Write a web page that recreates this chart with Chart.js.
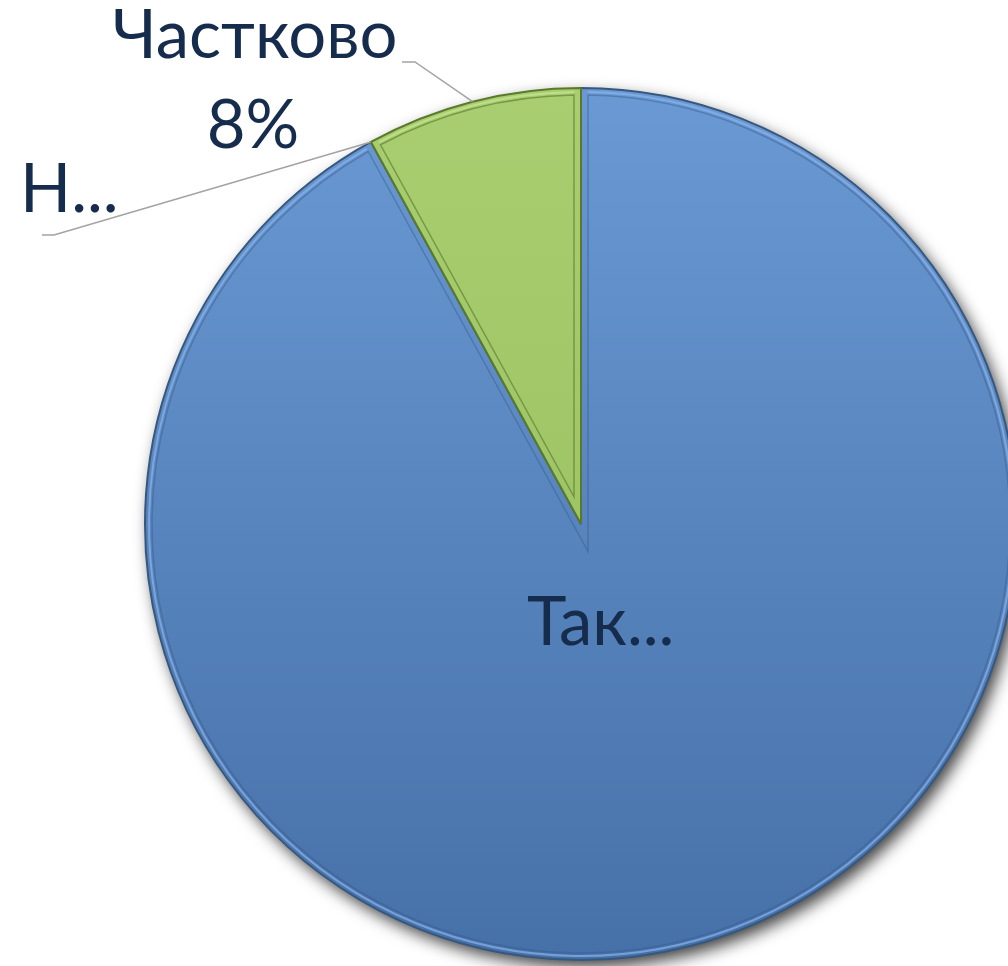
<!DOCTYPE html>
<html><head><meta charset="utf-8">
<script src="https://cdn.jsdelivr.net/npm/chart.js@4/dist/chart.umd.min.js"></script>
<style>html,body{margin:0;padding:0;overflow:hidden;background:#fff}
#wrap{position:relative;width:1030px;height:966px}</style></head>
<body><div id="wrap"><canvas id="c"></canvas></div>
<script>
const categories = ['Так', 'Ні', 'Частково'];
const values = [92, 0, 8];
const labelLines = [['Так...'], ['Н...'], ['Частково', '8%']];

const topColors = ['#6a99d3', '#6a99d3', '#a9ce71'];
const bottomColors = ['#4670a8', '#4670a8', '#93bb58'];
const edgeColors = ['#36587f', '#36587f', '#5a7a2a'];

function grad(ctx, i) {
  const chart = ctx.chart, a = chart.chartArea;
  if (!a) return topColors[i];
  const g = chart.ctx.createLinearGradient(0, a.top, 0, a.bottom);
  g.addColorStop(0, topColors[i]);
  g.addColorStop(1, bottomColors[i]);
  return g;
}

const shadowPlugin = {
  id: 'shadow',
  beforeDatasetsDraw(chart) {
    const el = chart.getDatasetMeta(0).data[0];
    if (!el) return;
    const c = chart.ctx;
    c.save();
    c.shadowColor = 'rgba(0,0,0,0.75)';
    c.shadowBlur = 16;
    c.shadowOffsetX = 5;
    c.shadowOffsetY = 7;
    c.beginPath();
    c.arc(el.x, el.y, el.outerRadius, 0, Math.PI * 2);
    c.fillStyle = '#36587f';
    c.fill();
    c.restore();
  }
};

const bevelPlugin = {
  id: 'bevel',
  afterDatasetsDraw(chart) {
    const c = chart.ctx;
    chart.getDatasetMeta(0).data.forEach((el, i) => {
      if (el.endAngle - el.startAngle < 0.001) return;
      const inset = 7;
      const r = el.outerRadius - inset;
      const sa = el.startAngle, ea = el.endAngle;
      const da = inset / r;
      c.save();
      c.beginPath();
      const tip = inset / Math.sin((ea - sa) / 2);
      const mid = (sa + ea) / 2;
      c.moveTo(el.x + Math.cos(mid) * Math.min(tip, r * 0.5), el.y + Math.sin(mid) * Math.min(tip, r * 0.5));
      c.arc(el.x, el.y, r, sa + da, ea - da);
      c.closePath();
      c.strokeStyle = i === 2 ? 'rgba(80,110,35,0.55)' : 'rgba(55,90,140,0.45)';
      c.lineWidth = 1.5;
      c.stroke();
      c.beginPath();
      c.arc(el.x, el.y, r + 3, sa + da, ea - da);
      c.strokeStyle = i === 2 ? 'rgba(200,230,150,0.7)' : 'rgba(140,180,235,0.7)';
      c.lineWidth = 2;
      c.stroke();
      c.restore();
    });
  }
};

const labelPlugin = {
  id: 'labelsOut',
  afterDraw(chart) {
    const c = chart.ctx;
    const meta = chart.getDatasetMeta(0).data;
    c.save();
    c.font = '67px Lato';
    c.fillStyle = '#152c4c';
    c.textBaseline = 'alphabetic';
    c.strokeStyle = '#a3a3a3';
    c.lineWidth = 1.5;
    const part = meta[2];
    const midP = (part.startAngle + part.endAngle) / 2;
    const p1 = [part.x + Math.cos(midP) * part.outerRadius, part.y + Math.sin(midP) * part.outerRadius];
    c.beginPath();
    c.moveTo(p1[0], p1[1]);
    c.lineTo(415, 62);
    c.lineTo(402, 62);
    c.stroke();
    const no = meta[1];
    const p2 = [no.x + Math.cos(no.startAngle) * no.outerRadius, no.y + Math.sin(no.startAngle) * no.outerRadius];
    c.beginPath();
    c.moveTo(p2[0], p2[1]);
    c.lineTo(54, 235);
    c.lineTo(42, 235);
    c.stroke();
    c.textAlign = 'center';
    c.fillText(labelLines[2][0], 255, 58);
    c.fillText(labelLines[2][1], 253, 148);
    c.textAlign = 'left';
    c.fillText(labelLines[1][0], 20, 212);
    c.fillText(labelLines[0][0], 527, 645);
    c.restore();
  }
};

new Chart(document.getElementById('c'), {
  type: 'pie',
  data: {
    labels: categories,
    datasets: [{
      data: values,
      backgroundColor: (ctx) => grad(ctx, ctx.dataIndex),
      borderColor: (ctx) => edgeColors[ctx.dataIndex],
      borderWidth: 2
    }]
  },
  options: {
    responsive: true,
    maintainAspectRatio: false,
    animation: false,
    layout: { padding: { left: 144, right: 12, top: 87, bottom: 5 } },
    plugins: { legend: { display: false }, tooltip: { enabled: false } }
  },
  plugins: [shadowPlugin, bevelPlugin, labelPlugin]
});
</script>
</body></html>
